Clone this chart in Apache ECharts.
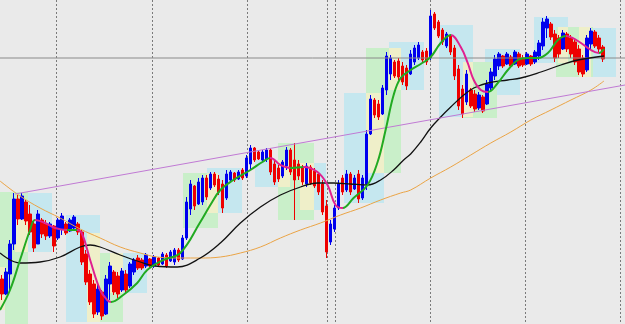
<!DOCTYPE html>
<html><head><meta charset="utf-8">
<script src="https://cdn.jsdelivr.net/npm/echarts/dist/echarts.min.js"></script>
<style>html,body{margin:0;padding:0;background:#eaeaea}#c{width:625px;height:324px}</style>
</head><body><div id="c"></div>
<script>
// ---- data (price units, bar index units) ----
const barSlots = 156;
const opens = [45,30,50,80,125,105,122,110,100,80,104,100,88,98,86,95,100,93,96,100,92,70,50,40,12,32,10,40,52,48,34,50,38,52,66,64,58,65,58,66,60,69,63,62,74,65,86,115,138,120,122,146,136,150,145,140,126,144,151,145,154,148,160,176,172,164,165,174,160,156,148,158,174,164,160,156,140,157,153,150,140,118,82,95,116,146,134,150,135,150,126,140,190,224,220,210,234,250,262,263,258,256,250,262,266,272,273,266,310,302,294,278,288,276,255,235,222,234,230,216,227,220,236,248,258,268,260,267,260,270,266,260,268,262,268,278,296,300,290,286,275,290,286,282,275,266,254,280,292,286,277];
const closes = [30,52,80,125,105,128,103,92,76,110,90,88,100,78,104,108,91,104,107,92,62,42,22,10,35,8,45,58,32,30,53,34,60,64,56,56,69,58,67,59,70,58,72,74,64,86,122,140,118,142,146,127,150,139,132,116,150,152,144,152,146,166,176,164,165,172,174,152,142,145,162,174,152,144,148,142,158,141,138,132,112,72,100,116,140,132,150,132,146,125,146,190,225,209,207,236,268,266,248,247,242,238,270,276,279,264,262,308,296,288,282,290,272,248,218,210,250,218,215,229,213,240,252,265,270,258,270,258,272,258,259,270,260,272,281,302,305,287,266,270,291,275,270,262,252,250,286,293,278,275,265];
const lows = [24,29,34,74,99,104,99,89,72,82,86,84,86,72,84,89,89,92,94,89,59,39,19,6,9,4,9,24,29,26,32,31,36,49,54,54,56,56,56,57,59,56,62,59,62,64,84,109,114,119,119,124,134,137,129,111,124,142,142,144,144,146,154,162,164,162,162,149,139,142,146,154,149,104,144,139,137,139,136,129,109,66,79,92,114,129,132,129,134,121,124,134,189,206,204,209,229,244,246,244,239,234,249,259,264,262,259,264,294,286,279,276,269,244,214,206,219,216,212,214,211,219,232,244,254,256,259,256,259,256,257,259,258,260,264,274,286,284,262,266,274,272,266,259,249,247,252,274,276,272,262];
const highs = [49,56,84,131,129,131,124,119,104,114,106,104,102,99,106,111,102,106,109,102,94,74,54,44,39,34,49,62,54,52,56,54,62,66,69,66,71,66,69,67,72,71,74,76,76,89,127,144,139,146,149,149,152,152,149,144,154,154,152,154,156,169,179,177,174,174,176,176,164,159,164,177,176,181,164,159,161,159,156,152,144,124,104,119,144,149,154,152,149,154,149,194,229,226,224,239,272,269,264,266,262,259,274,279,282,274,276,314,312,304,296,292,289,279,259,239,254,236,234,232,229,244,256,269,272,269,272,269,274,272,269,272,269,274,284,306,308,302,294,289,294,292,289,286,279,269,289,296,294,289,279];
// moving averages [bar position, price]
const fastMA = [[0,14],[2.5,34],[5,64],[7.5,94],[8.75,104],[11.25,101],[13.75,96],[16.75,94],[19.25,94],[20.5,90],[22.5,64],[25,34],[26.75,24],[27.75,22],[30.75,29],[34.25,41],[36.75,54],[40.75,64],[45,71],[50,102],[52.5,119],[55,134],[58.25,144],[62.5,154],[65.5,162],[67.5,166],[70,159],[72.5,156],[75.75,157],[79.25,152],[81.75,139],[83.75,119],[85.5,116],[88.25,126],[91.75,139],[94.25,162],[96.25,194],[98.25,229],[100,246],[102.5,254],[105,260],[107.5,267],[110,281],[112.5,289],[115,277],[116.75,261],[118.25,244],[120,234],[121.75,232],[124.25,241],[126.75,254],[129.25,264],[131.75,266],[134.25,266],[136.75,271],[139.25,284],[141.25,288],[144.25,283],[147.5,274],[149.5,271],[150.75,275]];
const slowMA = [[0,71],[5,61],[10,62],[15,67],[20,77],[22.5,79],[25,77],[30,69],[35,62],[38.75,58],[44.25,57],[50,66],[55,81],[60,101],[65,117],[70,129],[75,137],[79.25,141],[83.25,141],[87.5,140],[91.75,139],[95,144],[98.25,154],[100.75,164],[102.5,170],[105,182],[107.5,196],[110,207],[112.5,217],[115.75,229],[118.25,236],[121.75,241],[126.75,244],[130,246],[135,252],[140,259],[144.25,264],[150.75,268]];
const longMA = [[0,143],[5,128],[10,116],[15,106],[20,95],[25,86],[30,77],[35,71],[39.25,67],[45,66],[50,66],[55,67],[60,71],[65,77],[70,86],[75,94],[80,101],[85,109],[90,116],[95,124],[100,131],[102.5,134],[107.5,146],[112.5,157],[117.5,169],[122.5,181],[127.5,192],[132.5,204],[137.5,214],[142.5,224],[147.5,234],[150.75,243]];
const trendLine = [[3.75,130],[156,239]];
const levelPrice = 266;
const separators = [14, 38, 61.75, 81.5, 83.5, 107.25, 131, 154.75];
// boxes [xStart, xEnd, priceLow, priceHigh]
const blueBoxes = [[3.75,13,72,131],[16.5,25,2,109],[30.75,36.75,31,71],[51.75,60.5,111,156],[63.75,72.5,137,164],[75,81.25,114,161],[85.75,95.75,121,231],[97,105.75,234,282],[109.5,118,207,299],[121,129.75,229,275],[133.25,141.75,261,307],[147.5,153.75,247,296]];
const greenBoxes = [[0,7,57,132],[1.25,7,0,57],[25,30.75,2,71],[45.75,54.5,96,151],[69.5,78.25,104,181],[91.25,100,151,276],[115.5,124,206,262],[138.75,148,247,297]];
const yellowBoxes = [[0,1.25,14,57],[3.75,7,72,119],[21.75,25,2,91],[27.5,30.75,31,71],[51.75,54.5,111,151],[69.5,72.5,137,164],[75,78.25,114,161],[91.25,95.75,151,231],[97,100,234,276],[115.5,118,207,262],[139.25,141.75,261,297],[144.5,147.5,247,297]];

const priceMin = 0, priceMax = 324;
const GREEN = '#22aa22', MAGENTA = '#e0208f';

const categories = Array.from({length: barSlots}, (_, i) => String(i));
const candles = opens.map((o, i) => [o, closes[i], lows[i], highs[i]]);

const fastPieces = [];
for (let k = 1; k < fastMA.length; k++) {
  const falling = fastMA[k][1] < fastMA[k-1][1];
  const piece = {gte: fastMA[k-1][0], color: falling ? MAGENTA : GREEN};
  if (k === fastMA.length - 1) piece.lte = fastMA[k][0]; else piece.lt = fastMA[k][0];
  fastPieces.push(piece);
}

function boxRender(params, api) {
  const p0 = api.coord([api.value(0), api.value(3)]);
  const p1 = api.coord([api.value(1), api.value(2)]);
  return {type: 'rect', shape: {x: Math.round(p0[0]), y: Math.round(p0[1]), width: Math.round(p1[0]) - Math.round(p0[0]), height: Math.round(p1[1]) - Math.round(p0[1])}, style: {fill: api.visual('color')}};
}
function boxSeries(data, color) {
  return {type: 'custom', xAxisIndex: 1, yAxisIndex: 0, data, renderItem: boxRender, itemStyle: {color}, encode: {x: [0, 1], y: [2, 3]}, z: 1, silent: true};
}
function sepRender(params, api) {
  const top = api.coord([api.value(0), priceMax]);
  const bot = api.coord([api.value(0), priceMin]);
  const x = Math.round(top[0]) + 0.5;
  return {type: 'line', shape: {x1: x, y1: top[1], x2: x, y2: bot[1]}, style: {stroke: '#7a7a7a', lineWidth: 1, lineDash: [2, 2]}};
}

const chart = echarts.init(document.getElementById('c'), null, {renderer: 'canvas'});
chart.setOption({
  animation: false,
  backgroundColor: '#eaeaea',
  grid: {left: 0, right: 0, top: 0, bottom: 0},
  xAxis: [
    {type: 'category', data: categories, show: false, boundaryGap: true},
    {type: 'value', min: 0, max: barSlots, show: false}
  ],
  yAxis: {type: 'value', min: priceMin, max: priceMax, show: false, splitLine: {show: false}},
  visualMap: {type: 'piecewise', show: false, seriesIndex: 10, dimension: 0, pieces: fastPieces, outOfRange: {color: GREEN}},
  series: [
    boxSeries(blueBoxes, '#c5e7ef'),
    boxSeries(greenBoxes, '#c9efc9'),
    boxSeries(yellowBoxes, '#efefc9'),
    {type: 'custom', xAxisIndex: 1, yAxisIndex: 0, data: separators.map(v => [v]), renderItem: sepRender, encode: {x: 0}, z: 2, silent: true},
    {type: 'candlestick', xAxisIndex: 0, yAxisIndex: 0, data: candles, barWidth: 3, z: 3,
     itemStyle: {color: '#0000ee', color0: '#ee0000', borderColor: '#0000ee', borderColor0: '#ee0000', borderWidth: 1}},
    {type: 'line', xAxisIndex: 1, data: [[0, levelPrice], [barSlots, levelPrice]], showSymbol: false, lineStyle: {color: '#8a8a8a', width: 1}, z: 4, silent: true},
    {type: 'line', xAxisIndex: 1, data: longMA, smooth: 0.4, showSymbol: false, lineStyle: {color: '#eba445', width: 1}, z: 5},
    {type: 'line', xAxisIndex: 1, data: slowMA, smooth: 0.4, showSymbol: false, lineStyle: {color: '#111111', width: 1.3}, z: 5},
    {type: 'line', xAxisIndex: 1, data: trendLine, showSymbol: false, lineStyle: {color: '#c07ad4', width: 1}, z: 5},
    {type: 'line', xAxisIndex: 1, data: [], z: 0},
    {type: 'line', xAxisIndex: 1, data: fastMA, smooth: 0.4, showSymbol: false, lineStyle: {width: 2}, z: 6}
  ]
});
</script>
</body></html>
